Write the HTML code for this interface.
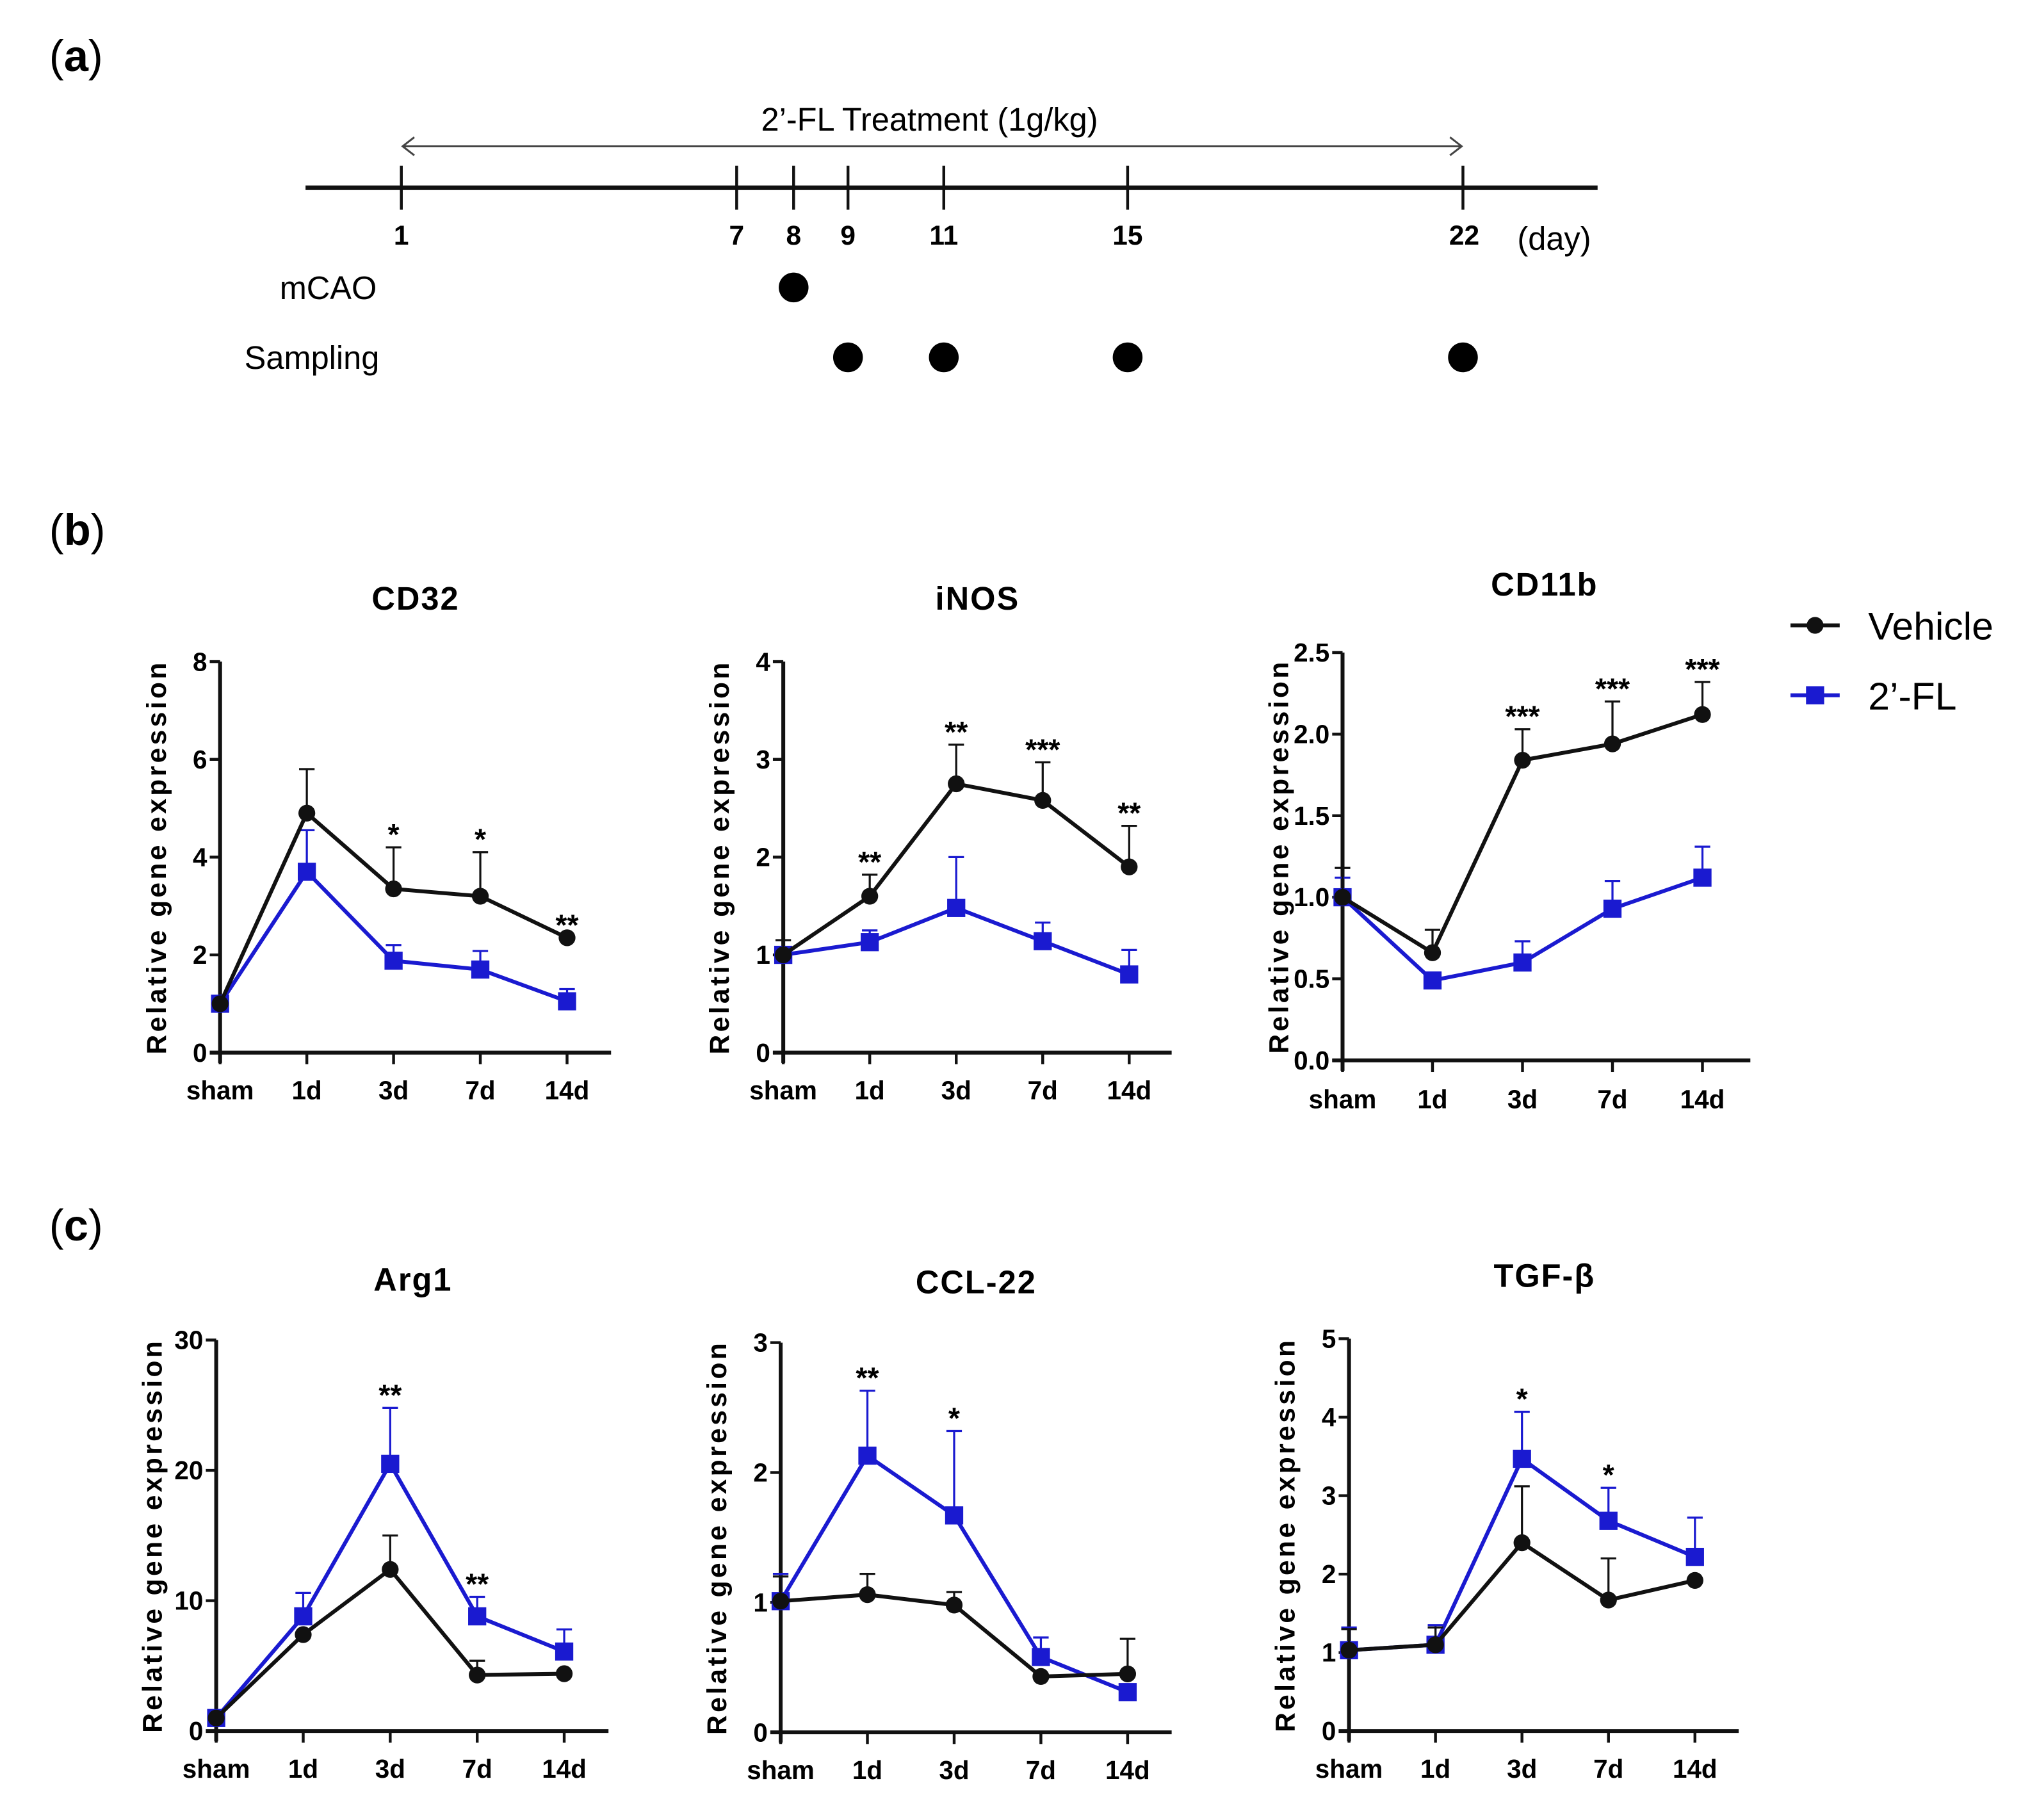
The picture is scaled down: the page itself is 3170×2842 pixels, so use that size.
<!DOCTYPE html>
<html><head><meta charset="utf-8"><style>
html,body{margin:0;padding:0;background:#fff;}
svg{display:block;}
text{font-family:"Liberation Sans",Arial,sans-serif;}
</style></head><body>
<svg id="fig" width="3170" height="2842" viewBox="0 0 1568 1405.7" preserveAspectRatio="none" xmlns="http://www.w3.org/2000/svg">
<g>
<text x="38" y="55" font-size="34">(<tspan font-weight="bold">a</tspan>)</text>
<text x="718" y="101" font-size="25" text-anchor="middle">2’-FL Treatment (1g/kg)</text>
<line x1="312" y1="113" x2="1128" y2="113" stroke="#444" stroke-width="1.5"/>
<polyline points="320,106 311,113 320,120" fill="none" stroke="#444" stroke-width="1.5"/>
<polyline points="1120,106 1129,113 1120,120" fill="none" stroke="#444" stroke-width="1.5"/>
<line x1="236" y1="145" x2="1234" y2="145" stroke="#111" stroke-width="3.5"/>
<g stroke="#111" stroke-width="2.2">
<line x1="310" x2="310" y1="128" y2="162"/><line x1="569" x2="569" y1="128" y2="162"/><line x1="613" x2="613" y1="128" y2="162"/><line x1="655" x2="655" y1="128" y2="162"/><line x1="729" x2="729" y1="128" y2="162"/><line x1="871" x2="871" y1="128" y2="162"/><line x1="1130" x2="1130" y1="128" y2="162"/>
</g>
<g font-size="21" font-weight="bold" text-anchor="middle">
<text x="310" y="189">1</text><text x="569" y="189">7</text><text x="613" y="189">8</text><text x="655" y="189">9</text><text x="729" y="189">11</text><text x="871" y="189">15</text><text x="1131" y="189">22</text>
</g>
<text x="1172" y="193" font-size="25">(day)</text>
<text x="291" y="231" font-size="25" text-anchor="end">mCAO</text>
<text x="293" y="285" font-size="25" text-anchor="end">Sampling</text>
<circle cx="613" cy="222" r="11.5" fill="#000"/>
<circle cx="655" cy="276" r="11.5" fill="#000"/>
<circle cx="729" cy="276" r="11.5" fill="#000"/>
<circle cx="871" cy="276" r="11.5" fill="#000"/>
<circle cx="1130" cy="276" r="11.5" fill="#000"/>
</g>
<text x="38" y="421" font-size="34">(<tspan font-weight="bold">b</tspan>)</text>
<text x="38" y="958" font-size="34">(<tspan font-weight="bold">c</tspan>)</text>
<g>
<line x1="1383" y1="483" x2="1421" y2="483" stroke="#111" stroke-width="3"/>
<circle cx="1402" cy="483" r="6.5" fill="#111"/>
<text x="1443" y="494" font-size="30">Vehicle</text>
<line x1="1383" y1="537" x2="1421" y2="537" stroke="#1a1ad0" stroke-width="3"/>
<rect x="1395" y="530" width="14" height="14" fill="#1a1ad0"/>
<text x="1443" y="548" font-size="30">2’-FL</text>
</g>
<g id="charts"></g>
</svg>
<script>
const NS="http://www.w3.org/2000/svg";
const categories=["sham","1d","3d","7d","14d"];
const cd32Vehicle=[1.0,4.9,3.35,3.2,2.35], cd32VehicleErr=[1.05,5.8,4.2,4.1,2.35];
const cd32FL=[1.0,3.7,1.88,1.7,1.05], cd32FLErr=[1.0,4.55,2.2,2.08,1.3];
const cd32Stars=["","","*","*","**"];
const inosVehicle=[1.0,1.6,2.75,2.58,1.9], inosVehicleErr=[1.15,1.82,3.15,2.97,2.32];
const inosFL=[1.0,1.13,1.48,1.14,0.8], inosFLErr=[1.05,1.25,2.0,1.33,1.05];
const inosStars=["","**","**","***","**"];
const cd11bVehicle=[1.0,0.66,1.84,1.94,2.12], cd11bVehicleErr=[1.18,0.8,2.03,2.2,2.32];
const cd11bFL=[1.0,0.49,0.6,0.93,1.12], cd11bFLErr=[1.12,0.49,0.73,1.1,1.31];
const cd11bStars=["","","***","***","***"];
const arg1Vehicle=[1,7.4,12.4,4.3,4.4], arg1VehicleErr=[1,7.4,15,5.4,4.4];
const arg1FL=[1,8.8,20.5,8.8,6.1], arg1FLErr=[1,10.6,24.8,10.3,7.8];
const arg1Stars=["","","**","**",""];
const ccl22Vehicle=[1.01,1.06,0.98,0.43,0.45], ccl22VehicleErr=[1.2,1.22,1.08,0.43,0.72];
const ccl22FL=[1.01,2.13,1.67,0.58,0.31], ccl22FLErr=[1.22,2.63,2.32,0.73,0.31];
const ccl22Stars=["","**","*","",""];
const tgfVehicle=[1.03,1.1,2.4,1.67,1.92], tgfVehicleErr=[1.3,1.32,3.12,2.2,1.92];
const tgfFL=[1.03,1.1,3.47,2.68,2.22], tgfFLErr=[1.32,1.35,4.07,3.1,2.72];
const tgfStars=["","","*","*",""];
const cd32Ticks=["0","2","4","6","8"], inosTicks=["0","1","2","3","4"], cd11bTicks=["0.0","0.5","1.0","1.5","2.0","2.5"];
const arg1Ticks=["0","10","20","30"], ccl22Ticks=["0","1","2","3"], tgfTicks=["0","1","2","3","4","5"];

function mk(tag,attrs,parent,txt){const e=document.createElementNS(NS,tag);for(const k in attrs)e.setAttribute(k,attrs[k]);if(txt!==undefined)e.textContent=txt;parent.appendChild(e);return e;}

const charts=[
 {name:'cd32',title:'CD32',tx:321,ty:471,ax:170,top:511,bot:813,end:472,xs:67,lab:849,max:8,ticks:cd32Ticks,v:cd32Vehicle,ve:cd32VehicleErr,f:cd32FL,fe:cd32FLErr,s:cd32Stars},
 {name:'inos',title:'iNOS',tx:755,ty:471,ax:605,top:511,bot:813,end:905,xs:66.8,lab:849,max:4,ticks:inosTicks,v:inosVehicle,ve:inosVehicleErr,f:inosFL,fe:inosFLErr,s:inosStars},
 {name:'cd11b',title:'CD11b',tx:1193,ty:460,ax:1037,top:504,bot:819,end:1352,xs:69.5,lab:856,max:2.5,ticks:cd11bTicks,v:cd11bVehicle,ve:cd11bVehicleErr,f:cd11bFL,fe:cd11bFLErr,s:cd11bStars},
 {name:'arg1',title:'Arg1',tx:319,ty:997,ax:167,top:1035,bot:1337,end:470,xs:67.2,lab:1373,max:30,ticks:arg1Ticks,v:arg1Vehicle,ve:arg1VehicleErr,f:arg1FL,fe:arg1FLErr,s:arg1Stars},
 {name:'ccl22',title:'CCL-22',tx:754,ty:999,ax:603,top:1037,bot:1338,end:905,xs:67,lab:1374,max:3,ticks:ccl22Ticks,v:ccl22Vehicle,ve:ccl22VehicleErr,f:ccl22FL,fe:ccl22FLErr,s:ccl22Stars},
 {name:'tgf',title:'TGF-β',tx:1193,ty:994,ax:1042,top:1034,bot:1337,end:1343,xs:66.8,lab:1373,max:5,ticks:tgfTicks,v:tgfVehicle,ve:tgfVehicleErr,f:tgfFL,fe:tgfFLErr,s:tgfStars}
];
const root=document.getElementById('charts');
charts.forEach(c=>{
  const g=mk('g',{},root);
  
  
  const X=i=>c.ax+i*c.xs;
  const Y=v=>c.bot-(v/c.max)*(c.bot-c.top);
  const t=mk('text',{x:c.tx,y:c.ty,'font-size':25,'font-weight':'bold','text-anchor':'middle','letter-spacing':'1'},g,c.title);
  
  
  const ya=mk('line',{x1:c.ax,x2:c.ax,y1:c.top,y2:c.bot+8,stroke:'#111','stroke-width':3},g);
  
  
  const xa=mk('line',{x1:c.ax-8,x2:c.end,y1:c.bot,y2:c.bot,stroke:'#111','stroke-width':3},g);
  
  
  c.ticks.forEach(tv=>{
    const y=Y(parseFloat(tv));
    mk('line',{x1:c.ax-8,x2:c.ax,y1:y,y2:y,stroke:'#111','stroke-width':2.2},g);
    const tl=mk('text',{x:c.ax-10,y:y+7,'font-size':20,'font-weight':'bold','text-anchor':'end'},g,tv);
    
    
  });
  const yt=mk('text',{x:0,y:0,'font-size':21,'font-weight':'bold','text-anchor':'middle','letter-spacing':'2.2',transform:`translate(${c.ax-42},${(c.top+c.bot)/2}) rotate(-90)`},g,'Relative gene expression');
  
  
  categories.forEach((cat,i)=>{
    mk('line',{x1:X(i),x2:X(i),y1:c.bot,y2:c.bot+9,stroke:'#111','stroke-width':2.2},g);
    const xl=mk('text',{x:X(i),y:c.lab,'font-size':20,'font-weight':'bold','text-anchor':'middle'},g,cat);
    
    
  });
  [[c.f,c.fe,'#1a1ad0','square','2fl'],[c.v,c.ve,'#111','circle','vehicle']].forEach(([vals,errs,col,shape,sn])=>{
    vals.forEach((v,i)=>{
      if(errs[i]>v){
        mk('line',{x1:X(i),x2:X(i),y1:Y(v),y2:Y(errs[i]),stroke:col,'stroke-width':1.6},g);
        mk('line',{x1:X(i)-6,x2:X(i)+6,y1:Y(errs[i]),y2:Y(errs[i]),stroke:col,'stroke-width':1.6},g);
      }
    });
    const pl=mk('polyline',{points:vals.map((v,i)=>X(i)+','+Y(v)).join(' '),fill:'none',stroke:col,'stroke-width':3},g);
    
    
    vals.forEach((v,i)=>{
      let m;
      if(shape==='circle') m=mk('circle',{cx:X(i),cy:Y(v),r:6.5,fill:col},g);
      else m=mk('rect',{x:X(i)-7,y:Y(v)-7,width:14,height:14,fill:col},g);
      
      
    });
  });
  c.s.forEach((s,i)=>{
    if(!s) return;
    const top=Math.max(c.ve[i],c.fe[i]);
    const st=mk('text',{x:X(i),y:Y(top)-2,'font-size':23,'font-weight':'bold','text-anchor':'middle'},g,s);
    
    
  });
});
</script>
</body></html>
